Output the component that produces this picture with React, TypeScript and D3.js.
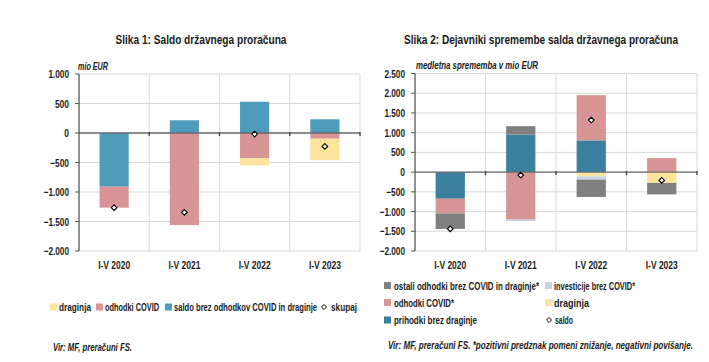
import React, { useEffect } from 'react'
import * as d3 from 'd3'

// categories
const years = ['I-V 2020', 'I-V 2021', 'I-V 2022', 'I-V 2023']

// Slika 1 (mio EUR)
const s1Draginja = [0, 0, -123, -362]
const s1Covid = [-355, -1560, -425, -97]
const s1SaldoBrez = [-910, 215, 530, 232]
const s1Skupaj = [-1265, -1345, -18, -227]
const s1Ticks = [1000, 500, 0, -500, -1000, -1500, -2000]

// Slika 2 (medletna sprememba v mio EUR)
const s2Prihodki = [-675, 950, 805, 0]
const s2Covid = [-365, -1205, 1145, 355]
const s2Draginja = [0, 0, -110, -275]
const s2Investicije = [-5, -35, -80, 0]
const s2Ostali = [-395, 215, -440, -290]
const s2Saldo = [-1440, -75, 1320, -210]
const s2Ticks = [2500, 2000, 1500, 1000, 500, 0, -500, -1000, -1500, -2000]

const FONT = "'Liberation Sans', Arial, sans-serif"
const C = {
  blue1: '#4e9bbb',
  blue2: '#3c80a0',
  pink: '#d99496',
  yellow: '#fde49c',
  gray: '#808080',
  lightBlue: '#c6d6ea',
}

const fmt = (v: number) => d3.format(',')(v).replace(/,/g, '.')
// the original uses a very condensed face, so texts are squeezed to their measured widths
const numWidth = (s: string) =>
  s.split('').reduce((a, ch) => a + (ch === '.' ? 1.8 : ch === '-' ? 3.2 : 4.7), 0)

function T(props: {
  x: number; y: number; w: number; size?: number; anchor?: string
  bold?: boolean; italic?: boolean; children: string
}) {
  const { x, y, w, size = 11, anchor = 'start', bold = true, italic = false, children } = props
  return (
    <text x={x} y={y} textLength={w} lengthAdjust="spacingAndGlyphs" textAnchor={anchor}
      fontSize={size} fontWeight={bold ? 'bold' : 'normal'} fontStyle={italic ? 'italic' : 'normal'} fill="#1a1a1a">
      {children}
    </text>
  )
}

type Series = { key: string; values: number[]; color: string }

function Panel(props: {
  x0: number; x1: number; top: number; bottom: number
  domain: [number, number]; ticks: number[]; series: Series[]; totals: number[]
}) {
  const { x0, x1, top, bottom, domain, ticks, series, totals } = props
  const x = d3.scaleBand<string>().domain(years).range([x0, x1]).paddingInner(0.585).paddingOuter(0.2925)
  const y = d3.scaleLinear().domain(domain).range([bottom, top])
  const rows = years.map((yr, i) => {
    const r: Record<string, any> = { year: yr }
    series.forEach(s => (r[s.key] = s.values[i]))
    return r
  })
  const stacked = d3.stack<any>().keys(series.map(s => s.key)).offset(d3.stackOffsetDiverging)(rows)
  const step = (x1 - x0) / years.length
  const bounds = d3.range(years.length + 1).map(i => x0 + i * step)
  const diamond = d3.symbol(d3.symbolDiamond2, 20)()
  return (
    <g>
      {ticks.map(t => (
        <line key={'g' + t} x1={x0} x2={x1} y1={y(t)} y2={y(t)} stroke="#d9d9d9" />
      ))}
      {bounds.slice(1).map(b => (
        <line key={'v' + b} x1={b} x2={b} y1={top} y2={bottom} stroke="#d9d9d9" />
      ))}
      {stacked.map((layer, li) => (
        <g key={layer.key} fill={series[li].color}>
          {layer.map((d, i) => (
            <rect key={i} x={x(years[i])} width={x.bandwidth()}
              y={y(Math.max(d[0], d[1]))} height={Math.abs(y(d[0]) - y(d[1]))} />
          ))}
        </g>
      ))}
      <line x1={x0} x2={x1} y1={y(0)} y2={y(0)} stroke="#6b6b6b" strokeWidth={1.3} />
      {bounds.slice(1).map(b => (
        <line key={'t' + b} x1={b} x2={b} y1={y(0) - 1} y2={y(0) + 3} stroke="#404040" strokeWidth={1.3} />
      ))}
      <line x1={x0} x2={x0} y1={top} y2={bottom} stroke="#555" strokeWidth={1.3} />
      {ticks.map(t => (
        <g key={'l' + t}>
          <line x1={x0 - 4} x2={x0} y1={y(t)} y2={y(t)} stroke="#555" />
          <T x={x0 - 10} y={y(t) + 4} w={numWidth(fmt(t))} anchor="end" size={11}>{fmt(t)}</T>
        </g>
      ))}
      {years.map(yr => (
        <T key={yr} x={(x(yr) as number) + x.bandwidth() / 2} y={bottom + 18} w={32} anchor="middle" size={11.5}>{yr}</T>
      ))}
      {totals.map((v, i) => (
        <path key={'d' + i} d={diamond as string}
          transform={`translate(${(x(years[i]) as number) + x.bandwidth() / 2},${y(v)})`}
          fill="#fff" stroke="#000" strokeWidth={1.1} />
      ))}
    </g>
  )
}

function LegendItem(props: { x: number; y: number; color?: string; label: string; tx: number; w: number }) {
  const { x, y, color, label, tx, w } = props
  const diamond = d3.symbol(d3.symbolDiamond2, 16)()
  return (
    <g>
      {color
        ? <rect x={x} y={y - 3.5} width={7} height={7} fill={color} />
        : <path d={diamond as string} transform={`translate(${x + 3},${y})`} fill="#fff" stroke="#000" strokeWidth={1} />}
      <T x={tx} y={y + 4} w={w} size={11.5}>{label}</T>
    </g>
  )
}

export default function App() {
  useEffect(() => {
    document.body.style.margin = '0'
  }, [])
  return (
    <svg width={709} height={362} style={{ display: 'block', background: '#fff', fontFamily: FONT }}>
      <T x={201} y={44} w={171} anchor="middle" size={13}>Slika 1: Saldo državnega proračuna</T>
      <T x={541} y={44} w={274} anchor="middle" size={13}>Slika 2: Dejavniki spremembe salda državnega proračuna</T>
      <T x={78} y={70} w={30} size={10.5} italic>mio EUR</T>
      <T x={416} y={69} w={122} size={10.5} italic>medletna sprememba v mio EUR</T>

      <Panel x0={79} x1={360} top={74} bottom={251} domain={[-2000, 1000]} ticks={s1Ticks}
        series={[
          { key: 'saldo', values: s1SaldoBrez, color: C.blue1 },
          { key: 'covid', values: s1Covid, color: C.pink },
          { key: 'draginja', values: s1Draginja, color: C.yellow },
        ]}
        totals={s1Skupaj} />
      <Panel x0={415} x1={697} top={73.5} bottom={251} domain={[-2000, 2500]} ticks={s2Ticks}
        series={[
          { key: 'prihodki', values: s2Prihodki, color: C.blue2 },
          { key: 'covid', values: s2Covid, color: C.pink },
          { key: 'draginja', values: s2Draginja, color: C.yellow },
          { key: 'investicije', values: s2Investicije, color: C.lightBlue },
          { key: 'ostali', values: s2Ostali, color: C.gray },
        ]}
        totals={s2Saldo} />

      <LegendItem x={50} y={307} tx={59} w={32} color={C.yellow} label="draginja" />
      <LegendItem x={96} y={307} tx={105} w={54} color={C.pink} label="odhodki COVID" />
      <LegendItem x={165} y={307} tx={174} w={143} color={C.blue1} label="saldo brez odhodkov COVID in draginje" />
      <LegendItem x={321} y={307} tx={331} w={26} label="skupaj" />

      <LegendItem x={384} y={285.5} tx={394} w={145} color={C.gray} label="ostali odhodki brez COVID in draginje*" />
      <LegendItem x={384} y={302.5} tx={394} w={60} color={C.pink} label="odhodki COVID*" />
      <LegendItem x={384} y={320} tx={394} w={83} color={C.blue2} label="prihodki brez draginje" />
      <LegendItem x={545} y={285.5} tx={554} w={81} color={C.lightBlue} label="investicije brez COVID*" />
      <LegendItem x={545} y={302.5} tx={554} w={35} color={C.yellow} label="draginja" />
      <LegendItem x={546} y={320} tx={555} w={18} label="saldo" />

      <T x={53} y={351} w={79} size={11} italic>Vir: MF, preračuni FS.</T>
      <T x={388} y={349} w={305} size={11} italic>Vir: MF, preračuni FS.  *pozitivni predznak pomeni znižanje, negativni povišanje.</T>
    </svg>
  )
}
